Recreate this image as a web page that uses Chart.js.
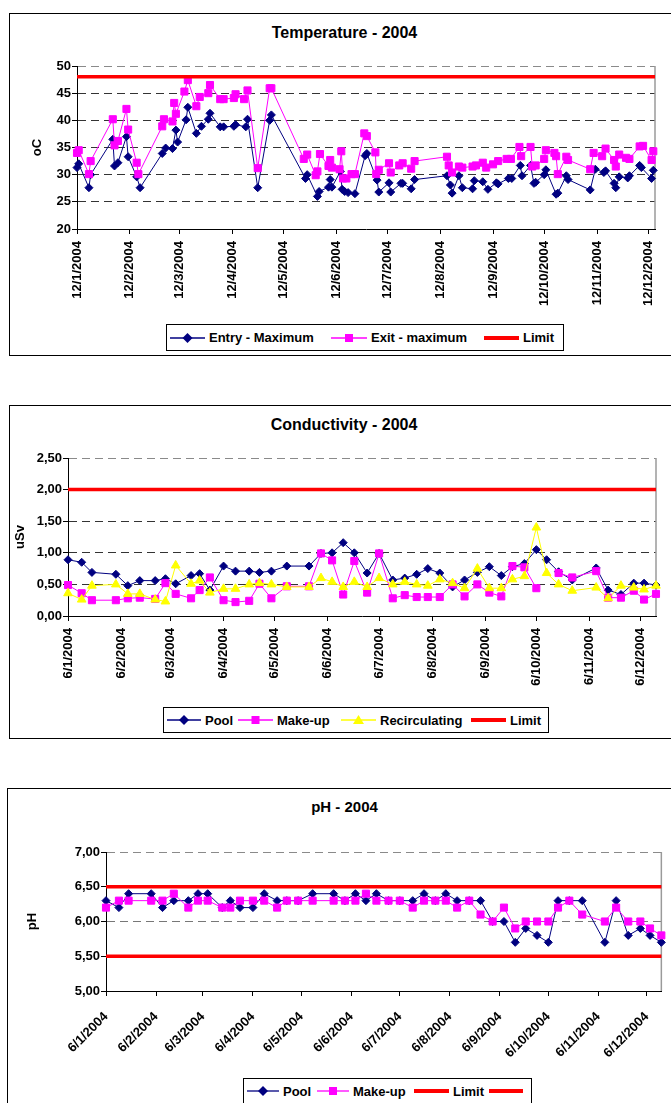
<!DOCTYPE html>
<html>
<head>
<meta charset="utf-8">
<title>Water quality 2004</title>
<script src="https://cdn.jsdelivr.net/npm/chart.js@4.4.1/dist/chart.umd.min.js"></script>
<style>
  html, body { margin: 0; padding: 0; background: #fff; }
  body { width: 671px; height: 1103px; overflow: hidden; position: relative;
         font-family: "Liberation Sans", Arial, sans-serif; color: #000; }
  .box { position: absolute; border: 1px solid #000; box-sizing: border-box; }
  canvas { position: absolute; }
  .title { position: absolute; font-weight: bold; text-align: center; line-height: 20px; white-space: nowrap; }
  .legend { position: absolute; border: 1px solid #000; box-sizing: border-box; background: #fff; }
  .legend .item { position: absolute; top: 0; bottom: 0; display: flex; align-items: center;
                  font-weight: bold; font-size: 13px; white-space: nowrap; }
  .legend svg { display: block; margin-right: 4px; }
</style>
</head>
<body>

<div class="box" style="left:9px;top:13px;width:700px;height:343px"></div>
<div class="title" style="left:0;top:23px;width:689px;font-size:16px">Temperature - 2004</div>
<canvas id="temp" width="661" height="340" style="left:10px;top:14px;width:661px;height:340px"></canvas>
<div class="legend" id="tempLegend" style="left:166px;top:324px;width:398px;height:27px"></div>

<div class="box" style="left:9px;top:405px;width:700px;height:334px"></div>
<div class="title" style="left:0;top:415px;width:688px;font-size:16px">Conductivity - 2004</div>
<canvas id="cond" width="661" height="331" style="left:10px;top:406px;width:661px;height:331px"></canvas>
<div class="legend" id="condLegend" style="left:163px;top:707px;width:386px;height:26px"></div>

<div class="box" style="left:7px;top:788px;width:700px;height:340px"></div>
<div class="title" style="left:0;top:797px;width:689px;font-size:15px">pH - 2004</div>
<canvas id="ph" width="663" height="314" style="left:8px;top:789px;width:663px;height:314px"></canvas>
<div class="legend" id="phLegend" style="left:243px;top:1078px;width:289px;height:26px"></div>

<script>
// ---------- Temperature (days counted from the first axis date) ----------
const tempTicks = ['12/1/2004', '12/2/2004', '12/3/2004', '12/4/2004', '12/5/2004', '12/6/2004',
                   '12/7/2004', '12/8/2004', '12/9/2004', '12/10/2004', '12/11/2004', '12/12/2004'];
const tempAxisEnd = 339;
const tempLimit = 48;

const tempEntryDays = [0, 1, 7, 8, 21, 22, 24, 29, 30, 35, 37, 50, 52, 56, 58, 59, 64, 65, 70, 73, 77,
  78, 84, 86, 92, 93, 99, 100, 106, 113, 114, 134, 135, 141, 142, 147.5, 148.5, 149.5, 154.5, 155.5, 157,
  159, 163, 169, 170, 176, 177, 183, 184, 190, 191, 196, 198, 217, 219, 220, 224, 226, 232, 233, 238,
  241, 246, 247, 253, 255, 260, 261, 266, 268, 269, 274, 275, 281, 282, 287, 288, 301, 304, 309, 310,
  315, 316, 318, 323, 324, 330, 331, 337, 338];
const tempEntry = [31.3, 32.0, 27.6, 30.0, 36.5, 31.6, 32.2, 37.0, 33.3, 29.6, 27.6, 33.9, 34.9, 34.8, 38.2, 36.0, 40.1, 42.4, 37.6, 38.9, 40.2,
  41.3, 38.8, 38.8, 38.9, 39.2, 38.8, 40.2, 27.6, 40.0, 41.0, 29.3, 30.0, 26.0, 26.9, 27.7, 29.1, 27.7, 30.6, 27.3, 26.9,
  26.7, 26.5, 33.5, 33.9, 29.0, 26.8, 28.5, 26.8, 28.4, 28.4, 27.4, 29.1, 29.8, 28.1, 26.6, 29.8, 27.6, 27.4, 28.9, 28.7,
  27.3, 28.5, 28.3, 29.3, 29.3, 31.7, 29.8, 31.7, 28.4, 28.6, 30.0, 30.9, 26.4, 26.6, 29.8, 29.1, 27.2, 31.0, 30.4, 30.7,
  28.4, 27.6, 29.6, 29.4, 29.8, 31.7, 31.3, 29.3, 30.8];

const tempExitDays = [0, 1, 7, 8, 21, 22, 24, 29, 30, 35, 36, 50, 51, 56, 57, 58, 63, 65, 70, 72, 77, 78,
  84, 86, 92, 93, 98, 100, 106, 113, 114, 133, 135, 140, 141, 142.5, 147.5, 148.5, 149.5, 154, 155, 156,
  158, 161, 163, 168.5, 170, 175, 175.5, 177, 183, 184, 189, 191, 196, 198, 217, 218, 220, 224, 226, 232,
  234, 238, 240, 244, 247, 252, 254.5, 259.5, 260.5, 266, 267, 269, 274, 275, 280, 281, 282, 287, 288,
  301, 303, 308, 310, 315, 316, 318, 322, 324, 330, 332, 337, 338];
const tempExit = [34.0, 34.5, 30.1, 32.5, 40.2, 35.4, 36.2, 42.1, 38.3, 32.2, 30.1, 38.9, 40.2, 39.8, 43.2, 41.2, 45.3, 47.4, 42.6, 44.3, 45.0, 46.5,
  43.9, 43.9, 44.1, 44.8, 43.9, 45.5, 31.2, 45.9, 45.9, 32.9, 33.7, 29.9, 30.6, 33.8, 31.6, 32.7, 31.3, 31.0, 34.3, 29.3,
  29.3, 30.1, 30.1, 37.6, 37.1, 34.1, 30.1, 30.9, 32.1, 30.4, 31.7, 32.1, 31.1, 32.5, 33.3, 31.7, 30.4, 31.5, 31.3, 31.5,
  31.7, 32.2, 31.3, 31.9, 32.5, 32.9, 32.9, 35.1, 33.4, 35.1, 31.5, 31.7, 32.9, 34.5, 34.0, 33.4, 30.1, 33.3, 32.7,
  31.0, 34.0, 33.4, 34.8, 32.7, 31.5, 33.7, 33.1, 32.9, 35.2, 35.3, 32.7, 34.3];

// ---------- Conductivity and pH share the same sampling days ----------
const sampleTicks = ['6/1/2004', '6/2/2004', '6/3/2004', '6/4/2004', '6/5/2004', '6/6/2004',
                     '6/7/2004', '6/8/2004', '6/9/2004', '6/10/2004', '6/11/2004', '6/12/2004'];
const sampleAxisEnd = 344;
const sampleDays = [0, 8, 14, 28, 35, 42, 51, 57, 63, 72, 77, 83, 91, 98, 106, 112, 119, 128, 141, 148,
  154.5, 161, 167.5, 175, 182, 190, 197, 204, 210.5, 217.5, 225, 232, 239.5, 246.5, 253.5, 260, 267, 274,
  280, 287, 295, 309, 316, 323.5, 331, 337, 344];

const condLimit = 2.0;
const condPool = [0.89, 0.85, 0.69, 0.66, 0.48, 0.56, 0.56, 0.59, 0.51, 0.64, 0.67, 0.41, 0.79, 0.71, 0.71, 0.69, 0.71, 0.79, 0.79, 0.99,
  1.00, 1.16, 1.00, 0.68, 0.99, 0.57, 0.60, 0.66, 0.75, 0.68, 0.46, 0.57, 0.69, 0.78, 0.64, 0.78, 0.83, 1.05,
  0.89, 0.70, 0.57, 0.76, 0.41, 0.34, 0.52, 0.52, 0.49];
const condMakeUp = [0.49, 0.36, 0.25, 0.25, 0.28, 0.29, 0.27, 0.52, 0.35, 0.28, 0.41, 0.61, 0.25, 0.22, 0.24, 0.51, 0.28, 0.47, 0.47, 0.99,
  0.88, 0.34, 0.87, 0.37, 0.99, 0.28, 0.33, 0.30, 0.30, 0.30, 0.50, 0.31, 0.50, 0.37, 0.31, 0.79, 0.77, 0.44,
  null, 0.68, 0.61, 0.71, 0.29, 0.29, 0.40, 0.26, 0.35];
const condRecirc = [0.36, 0.26, 0.48, 0.50, 0.35, 0.35, 0.26, 0.23, 0.80, 0.51, 0.56, 0.37, 0.43, 0.43, 0.50, 0.52, 0.50, 0.46, 0.46, 0.60,
  0.54, 0.46, 0.54, 0.46, 0.60, 0.50, 0.54, 0.50, 0.48, 0.58, 0.52, 0.44, 0.75, 0.44, 0.44, 0.58, 0.63, 1.40,
  0.68, 0.50, 0.40, 0.45, 0.28, 0.48, 0.45, 0.42, 0.48];

const phLimitHigh = 6.5;
const phLimitLow = 5.5;
const phPool = [6.3, 6.2, 6.4, 6.4, 6.2, 6.3, 6.3, 6.4, 6.4, 6.2, 6.3, 6.2, 6.2, 6.4, 6.3, 6.3, 6.3, 6.4, 6.4, 6.3,
  6.4, 6.3, 6.4, 6.3, 6.3, 6.3, 6.4, 6.3, 6.4, 6.3, 6.3, 6.3, 6.0, 6.0, 5.7, 5.9, 5.8, 5.7, 6.3, 6.3,
  6.3, 5.7, 6.3, 5.8, 5.9, 5.8, 5.7];
const phMakeUp = [6.2, 6.3, 6.3, 6.3, 6.3, 6.4, 6.2, 6.3, 6.3, 6.2, 6.2, 6.3, 6.3, 6.3, 6.2, 6.3, 6.3, 6.3, 6.3, 6.3,
  6.3, 6.4, 6.3, 6.3, 6.3, 6.2, 6.3, 6.3, 6.3, 6.2, 6.3, 6.1, 6.0, 6.2, 5.9, 6.0, 6.0, 6.0, 6.2, 6.3,
  6.1, 6.0, 6.2, 6.0, 6.0, 5.9, 5.8];

// ---------- styling ----------
const NAVY = '#000080', MAGENTA = '#ff00ff', YELLOW = '#ffff00', RED = '#ff0000';
Chart.defaults.font.family = '"Liberation Sans", Arial, sans-serif';
Chart.defaults.color = '#000';
const BOLD13 = { size: 13, weight: 'bold' };

// day offsets of d/m/yyyy labels, counted from the first label
function dayOffsets(labels) {
  const toUTC = s => { const [d, m, y] = s.split('/').map(Number); return Date.UTC(y, m - 1, d); };
  const t0 = toUTC(labels[0]);
  return labels.map(s => (toUTC(s) - t0) / 864e5);
}

const comma2 = v => v.toFixed(2).replace('.', ',');

function xAxis(labels, max, height, rotation, pad) {
  const pos = dayOffsets(labels);
  return {
    type: 'linear', min: 0, max,
    afterBuildTicks: s => { s.ticks = pos.map(v => ({ value: v })); },
    afterFit: s => { s.height = height; },
    ticks: { autoSkip: false, minRotation: rotation, maxRotation: rotation, padding: pad,
             font: BOLD13, callback: (v, i) => labels[i] },
    grid: { drawOnChartArea: false, tickLength: 5, color: '#000' },
    border: { color: '#000' }
  };
}

function yAxis(min, max, step, width, title, titlePad, fmt, gridColor) {
  return {
    min, max,
    afterFit: s => { s.width = width; },
    ticks: { stepSize: step, padding: 1, font: BOLD13, callback: fmt },
    grid: {
      tickLength: 5, tickColor: '#000',
      color: c => c.tick.value === min ? 'rgba(0,0,0,0)' : (c.tick.value === max ? '#8a8a8a' : gridColor)
    },
    border: { color: '#000', dash: [8, 5] },
    title: { display: true, text: title, font: BOLD13, padding: { top: titlePad, bottom: 0 } }
  };
}

function series(label, days, values, color, pointStyle, radius, order) {
  return {
    label, order,
    data: days.map((d, i) => ({ x: d, y: values[i] })),
    borderColor: color, backgroundColor: color, borderWidth: 1,
    pointStyle, pointRadius: radius, pointBorderWidth: 1,
    pointBackgroundColor: color, pointBorderColor: color,
    spanGaps: false, clip: false
  };
}

function limitLine(value, end) {
  return {
    label: 'Limit', order: 0,
    data: [{ x: 0, y: value }, { x: end, y: value }],
    borderColor: RED, borderWidth: 3.5, pointRadius: 0, clip: false
  };
}

// grey right edge of the plot area
const plotEdge = {
  id: 'plotEdge',
  beforeDatasetsDraw(chart) {
    const { ctx, chartArea: a } = chart;
    ctx.save();
    ctx.strokeStyle = '#9a9a9a';
    ctx.lineWidth = 1.5;
    ctx.beginPath();
    ctx.moveTo(a.right, a.top);
    ctx.lineTo(a.right, a.bottom);
    ctx.stroke();
    ctx.restore();
  }
};

function makeChart(id, datasets, area, scales) {
  const canvas = document.getElementById(id);
  return new Chart(canvas, {
    type: 'line',
    data: { datasets },
    options: {
      responsive: false, animation: false, devicePixelRatio: 1,
      layout: { padding: { left: 0, top: area.top, right: canvas.width - area.right, bottom: 0 } },
      plugins: { legend: { display: false }, tooltip: { enabled: false } },
      scales
    },
    plugins: [plotEdge]
  });
}

// Temperature
makeChart('temp', [
  series('Entry - Maximum', tempEntryDays, tempEntry, NAVY, 'rectRot', 4, 3),
  series('Exit - maximum', tempExitDays, tempExit, MAGENTA, 'rect', 5, 2),
  limitLine(tempLimit, tempAxisEnd)
], { top: 52, right: 645 }, {
  x: xAxis(tempTicks, tempAxisEnd, 340 - 215, 90, 7),
  y: yAxis(20, 50, 5, 67, 'oC', 20, v => v, '#333')
});

// Conductivity
makeChart('cond', [
  series('Pool', sampleDays, condPool, NAVY, 'rectRot', 4, 4),
  series('Make-up', sampleDays, condMakeUp, MAGENTA, 'rect', 5, 3),
  series('Recirculating', sampleDays, condRecirc, YELLOW, 'triangle', 5, 2),
  limitLine(condLimit, sampleAxisEnd)
], { top: 52, right: 646 }, {
  x: xAxis(sampleTicks, sampleAxisEnd, 331 - 210, 90, 7),
  y: yAxis(0, 2.5, 0.5, 58, 'uSv', 3, comma2, '#333')
});

// pH
makeChart('ph', [
  series('Pool', sampleDays, phPool, NAVY, 'rectRot', 4, 3),
  series('Make-up', sampleDays, phMakeUp, MAGENTA, 'rect', 5, 2),
  limitLine(phLimitHigh, sampleAxisEnd),
  limitLine(phLimitLow, sampleAxisEnd)
], { top: 63, right: 660 }, {
  x: xAxis(sampleTicks, sampleAxisEnd, 314 - 202, 45, 13),
  y: yAxis(5, 7, 0.5, 98, 'pH', 17, comma2, '#777')
});

// ---------- legends ----------
function markerSvg(shape, color, len, thick) {
  const c = len / 2, y = 7;
  let m = '';
  if (shape === 'diamond') m = `<polygon points="${c},${y - 5} ${c + 5},${y} ${c},${y + 5} ${c - 5},${y}" fill="${color}"/>`;
  if (shape === 'square') m = `<rect x="${c - 4}" y="${y - 4}" width="8" height="8" fill="${color}"/>`;
  if (shape === 'triangle') m = `<polygon points="${c},${y - 5} ${c + 5.5},${y + 4} ${c - 5.5},${y + 4}" fill="${color}"/>`;
  return `<svg width="${len}" height="14"><line x1="0" y1="${y}" x2="${len}" y2="${y}" stroke="${color}" stroke-width="${thick}"/>${m}</svg>`;
}

function buildLegend(id, boxLeft, items) {
  const el = document.getElementById(id);
  el.innerHTML = items.map(it =>
    `<div class="item" style="left:${it.x - boxLeft - 1}px">${markerSvg(it.shape, it.color, it.len, it.thick || 1.3)}${it.text ? `<span>${it.text}</span>` : ''}</div>`
  ).join('');
}

buildLegend('tempLegend', 166, [
  { x: 170, len: 35, shape: 'diamond', color: NAVY, text: 'Entry - Maximum' },
  { x: 331, len: 36, shape: 'square', color: MAGENTA, text: 'Exit - maximum' },
  { x: 484, len: 35, shape: null, color: RED, thick: 4, text: 'Limit' }
]);

buildLegend('condLegend', 163, [
  { x: 167, len: 34, shape: 'diamond', color: NAVY, text: 'Pool' },
  { x: 238, len: 35, shape: 'square', color: MAGENTA, text: 'Make-up' },
  { x: 341, len: 35, shape: 'triangle', color: YELLOW, text: 'Recirculating' },
  { x: 471, len: 35, shape: null, color: RED, thick: 4, text: 'Limit' }
]);

buildLegend('phLegend', 243, [
  { x: 247, len: 32, shape: 'diamond', color: NAVY, text: 'Pool' },
  { x: 317, len: 32, shape: 'square', color: MAGENTA, text: 'Make-up' },
  { x: 414, len: 35, shape: null, color: RED, thick: 4, text: 'Limit' },
  { x: 489, len: 34, shape: null, color: RED, thick: 4, text: '' }
]);
</script>
</body>
</html>
